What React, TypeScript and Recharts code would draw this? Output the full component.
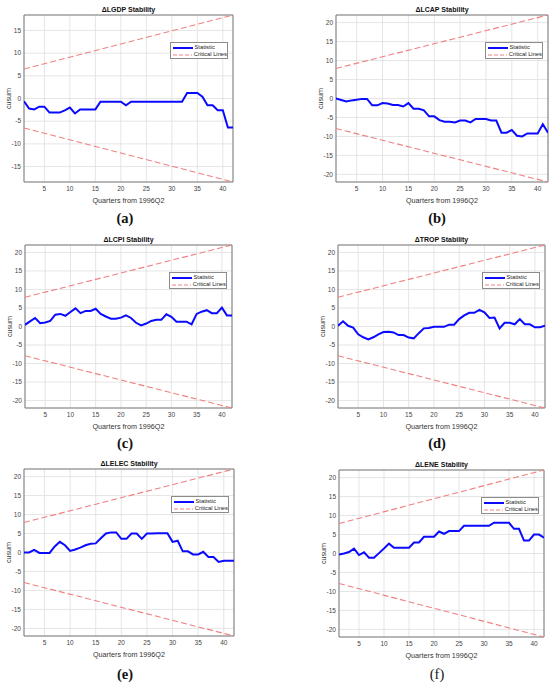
import React from 'react';
import { LineChart, Line, XAxis, YAxis, CartesianGrid, ReferenceArea, Legend } from 'recharts';

const quarters = [1, 2, 3, 4, 5, 6, 7, 8, 9, 10, 11, 12, 13, 14, 15, 16, 17, 18, 19, 20, 21, 22, 23, 24, 25, 26, 27, 28, 29, 30, 31, 32, 33, 34, 35, 36, 37, 38, 39, 40, 41, 42];
const xTicks = [5, 10, 15, 20, 25, 30, 35, 40];
const critX = [1, 42];

const lgdpValues = [-0.6, -2.2, -2.4, -1.8, -1.8, -3.1, -3.1, -3.1, -2.6, -2.0, -3.3, -2.4, -2.4, -2.4, -2.4, -0.7, -0.7, -0.7, -0.7, -0.7, -1.5, -0.7, -0.7, -0.7, -0.7, -0.7, -0.7, -0.7, -0.7, -0.7, -0.7, -0.7, 1.2, 1.2, 1.2, 0.4, -1.5, -1.5, -2.6, -2.6, -6.4, -6.4];
const lcapValues = [0, -0.4, -0.8, -0.5, -0.3, -0.1, -0.1, -1.8, -1.8, -1.2, -1.3, -1.7, -1.7, -2.1, -1.2, -2.7, -2.7, -3.1, -4.7, -4.7, -5.7, -6.1, -6.1, -6.3, -5.8, -5.8, -6.3, -5.4, -5.4, -5.4, -5.8, -5.8, -9.0, -9.0, -8.3, -9.8, -10.0, -9.2, -9.2, -9.2, -6.8, -9.0];
const lcpiValues = [0.45, 1.4, 2.3, 0.9, 1.1, 1.5, 3.2, 3.4, 2.9, 3.9, 4.9, 3.6, 4.2, 4.2, 4.8, 3.4, 2.7, 2.1, 2.1, 2.4, 3.0, 2.3, 1.0, 0.3, 0.8, 1.5, 1.8, 1.8, 3.3, 2.6, 1.3, 1.3, 1.3, 0.6, 3.4, 4.0, 4.4, 3.6, 3.6, 5.1, 3.0, 3.0];
const tropValues = [0.2, 1.4, 0.2, -0.3, -2.1, -2.9, -3.5, -2.9, -2.1, -1.5, -1.4, -1.6, -2.3, -2.3, -3.0, -3.2, -1.8, -0.5, -0.4, -0.1, -0.1, -0.1, 0.5, 0.5, 2.0, 3.0, 3.7, 3.7, 4.5, 3.8, 2.3, 2.4, -0.5, 1.0, 1.0, 0.6, 2.0, 0.6, 0.6, -0.2, -0.2, 0.2];
const lelecValues = [0, 0, 0.7, -0.1, -0.1, -0.1, 1.6, 2.8, 1.9, 0.4, 0.8, 1.3, 1.9, 2.3, 2.4, 3.75, 5.0, 5.3, 5.3, 3.6, 3.6, 5.0, 5.0, 3.6, 5.0, 5.0, 5.1, 5.1, 5.1, 2.8, 3.1, 0.3, 0.3, -0.5, -0.5, 0.2, -1.2, -1.2, -2.5, -2.2, -2.2, -2.2];
const leneValues = [-0.3, 0, 0.4, 1.3, -0.4, 0.3, -1.1, -1.1, 0.1, 1.3, 2.6, 1.5, 1.5, 1.5, 1.5, 2.9, 2.9, 4.4, 4.4, 4.4, 5.8, 5.2, 5.9, 5.9, 5.9, 7.3, 7.3, 7.3, 7.3, 7.3, 7.3, 8.1, 8.1, 8.1, 8.1, 6.5, 6.5, 3.4, 3.4, 5.0, 5.0, 4.2];

const lgdpUpper = [6.5, 18.4];
const lgdpLower = [-6.5, -18.4];
const wideUpper = [7.9, 22];
const wideLower = [-7.9, -22];

const lgdpTicks = [-15, -10, -5, 0, 5, 10, 15];
const wideTicks = [-20, -15, -10, -5, 0, 5, 10, 15, 20];
const lgdpDomain = [-18.4, 18.4];
const wideDomain = [-22, 22];

const titles = ['\u0394LGDP Stability', '\u0394LCAP Stability', '\u0394LCPI Stability', '\u0394TROP Stability', '\u0394LELEC Stability', '\u0394LENE Stability'];
const captions = ['(a)', '(b)', '(c)', '(d)', '(e)', '(f)'];

const SANS = "'Liberation Sans', Arial, Helvetica, sans-serif";
const CHART_W = 275;

type PanelSpec = {
  title: string; caption: string; values: number[]; upper: number[]; lower: number[];
  yDomain: number[]; yTicks: number[];
  col: number; plotL: number; plotR: number; plotT: number; plotB: number; capX: number; capY: number; capBold: boolean;
};

const panels: PanelSpec[] = [
  { title: titles[0], caption: captions[0], values: lgdpValues, upper: lgdpUpper, lower: lgdpLower, yDomain: lgdpDomain, yTicks: lgdpTicks, col: 0, plotL: 24, plotR: 233, plotT: 15, plotB: 182, capX: 125, capY: 218, capBold: true },
  { title: titles[1], caption: captions[1], values: lcapValues, upper: wideUpper, lower: wideLower, yDomain: wideDomain, yTicks: wideTicks, col: 275, plotL: 336, plotR: 548, plotT: 15, plotB: 182, capX: 437, capY: 218, capBold: true },
  { title: titles[2], caption: captions[2], values: lcpiValues, upper: wideUpper, lower: wideLower, yDomain: wideDomain, yTicks: wideTicks, col: 0, plotL: 25, plotR: 232, plotT: 245, plotB: 408, capX: 125, capY: 443, capBold: true },
  { title: titles[3], caption: captions[3], values: tropValues, upper: wideUpper, lower: wideLower, yDomain: wideDomain, yTicks: wideTicks, col: 275, plotL: 338, plotR: 545, plotT: 245, plotB: 408, capX: 437, capY: 443, capBold: true },
  { title: titles[4], caption: captions[4], values: lelecValues, upper: wideUpper, lower: wideLower, yDomain: wideDomain, yTicks: wideTicks, col: 0, plotL: 24, plotR: 234, plotT: 469, plotB: 636, capX: 125, capY: 674, capBold: true },
  { title: titles[5], caption: captions[5], values: leneValues, upper: wideUpper, lower: wideLower, yDomain: wideDomain, yTicks: wideTicks, col: 275, plotL: 339, plotR: 544, plotT: 470, plotB: 637, capX: 437, capY: 674, capBold: false },
];

const renderLegend = (props: any) => {
  const items = (props.payload || []).filter((e: any) => e.type !== 'none');
  const isDashed = (e: any) => !!(e.payload && e.payload.strokeDasharray);
  const sorted = [...items.filter((e: any) => !isDashed(e)), ...items.filter((e: any) => isDashed(e))];
  return (
    <div style={{ width: 58, height: 17, boxSizing: 'border-box', border: '1px solid #8c8c8c', background: '#fff', paddingTop: 1, paddingLeft: 2 }}>
      {sorted.map((e: any) => {
        const dash = isDashed(e);
        return (
          <div key={e.value} style={{ display: 'flex', alignItems: 'center', height: 7.3 }}>
            <svg width={20} height={4} style={{ display: 'block' }}>
              <line x1={0} x2={20} y1={2} y2={2} stroke={e.color} strokeWidth={dash ? 1 : 2} strokeDasharray={dash ? '4 2' : undefined} />
            </svg>
            <span style={{ fontSize: 5.8, marginLeft: 1.5, fontFamily: SANS, color: '#222', lineHeight: '7px', whiteSpace: 'nowrap' }}>{e.value}</span>
          </div>
        );
      })}
    </div>
  );
};

function Panel({ p }: { p: PanelSpec }) {
  const chartLeft = p.col;
  const chartTop = p.plotT - 15;
  const chartH = p.plotB - p.plotT + 45;
  const data = quarters.map((q, i) => ({ q, v: p.values[i] }));
  const crit = critX.map((q, i) => ({ q, up: p.upper[i], lo: p.lower[i] }));
  const tickStyle = { fontSize: 6.5, fill: '#444', fontFamily: SANS };
  const plotW = p.plotR - p.plotL;
  const plotH = p.plotB - p.plotT;
  return (
    <>
      <div style={{ position: 'absolute', left: chartLeft, top: chartTop, width: CHART_W, height: chartH }}>
        <LineChart width={CHART_W} height={chartH} margin={{ top: 15, right: chartLeft + CHART_W - p.plotR, bottom: 0, left: 0 }}>
          <CartesianGrid stroke="#dedede" strokeWidth={0.8} />
          <XAxis type="number" dataKey="q" domain={[1, 42]} ticks={xTicks} allowDataOverflow height={30} tickLine={false} axisLine={false} tickSize={0} tickMargin={4} tick={tickStyle} interval={0} />
          <YAxis type="number" domain={p.yDomain} ticks={p.yTicks} allowDataOverflow width={p.plotL - chartLeft} tickLine={false} axisLine={false} tickSize={0} tickMargin={3} tick={tickStyle} interval={0} />
          <ReferenceArea x1={1} x2={42} y1={p.yDomain[0]} y2={p.yDomain[1]} fill="none" fillOpacity={0} stroke="#7a7a7a" strokeWidth={1} ifOverflow="visible" />
          <Line data={data} dataKey="v" name="Statistic" type="linear" stroke="#0a0aff" strokeWidth={2} dot={false} activeDot={false} isAnimationActive={false} />
          <Line data={crit} dataKey="up" name="Critical Lines" type="linear" stroke="#f08080" strokeWidth={1.1} strokeDasharray="6 3" dot={false} activeDot={false} isAnimationActive={false} />
          <Line data={crit} dataKey="lo" name="Critical Lines Lower" legendType="none" type="linear" stroke="#f08080" strokeWidth={1.1} strokeDasharray="6 3" dot={false} activeDot={false} isAnimationActive={false} />
          <Legend layout="horizontal" verticalAlign="middle" align="center" content={renderLegend}
            wrapperStyle={{ left: p.plotR - 5 - 58 - chartLeft, top: 15 + 27, width: 58, height: 17 }} />
        </LineChart>
      </div>
      <div style={{ position: 'absolute', left: p.plotL, width: plotW, top: p.plotT - 10, height: 9, lineHeight: '9px', textAlign: 'center', fontFamily: SANS, fontWeight: 'bold', fontSize: 7, color: '#111', whiteSpace: 'nowrap' }}>{p.title}</div>
      <div style={{ position: 'absolute', left: p.plotL, width: plotW, top: p.plotB + 13.5, height: 9, lineHeight: '9px', textAlign: 'center', fontFamily: SANS, fontSize: 7.2, color: '#333', whiteSpace: 'nowrap' }}>Quarters from 1996Q2</div>
      <div style={{ position: 'absolute', left: p.plotL - 16.5 - 20, width: 40, top: p.plotT + plotH / 2 - 4.5, height: 9, lineHeight: '9px', textAlign: 'center', fontFamily: SANS, fontSize: 7.2, color: '#333', transform: 'rotate(-90deg)', whiteSpace: 'nowrap' }}>cusum</div>
      <div style={{ position: 'absolute', left: p.capX - 30, width: 60, top: p.capY - 8, height: 16, lineHeight: '16px', textAlign: 'center', fontFamily: "'Liberation Serif', 'DejaVu Serif', serif", fontWeight: p.capBold ? 'bold' : 'normal', fontSize: 14.5, color: '#111' }}>{p.caption}</div>
    </>
  );
}

export default function App() {
  return (
    <div style={{ position: 'absolute', left: 0, top: 0, width: 550, height: 684, background: '#fff', overflow: 'hidden' }}>
      {panels.map((p) => <Panel key={p.caption} p={p} />)}
    </div>
  );
}
